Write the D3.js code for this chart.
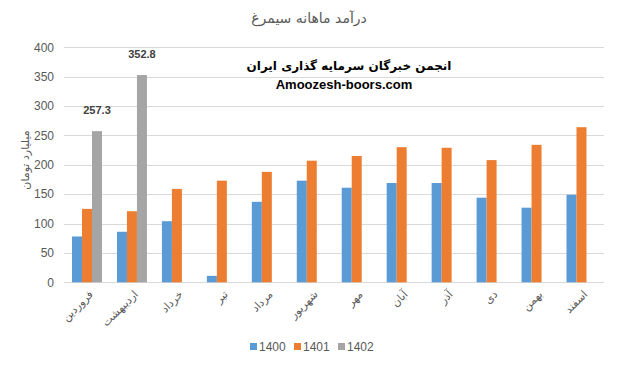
<!DOCTYPE html>
<html>
<head>
<meta charset="utf-8">
<script src="https://cdn.jsdelivr.net/npm/d3@7"></script>
<style>
  body { margin: 0; background: #fff; }
  text { font-family: "Liberation Sans", "DejaVu Sans", sans-serif; }
</style>
</head>
<body>
<div id="chart"></div>
<script>
// months (Persian calendar)
var months = ["فروردین", "اردیبهشت", "خرداد", "تیر", "مرداد", "شهریور", "مهر", "آبان", "آذر", "دی", "بهمن", "اسفند"];
var series = ["1400", "1401", "1402"];
var v1400 = [78, 86, 104, 11, 137, 173, 161, 169, 169, 144, 127, 149];
var v1401 = [125, 121, 159, 173, 188, 207, 215, 230, 229, 208, 234, 264];
var v1402 = [257.3, 352.8, null, null, null, null, null, null, null, null, null, null];
var yTicks = [0, 50, 100, 150, 200, 250, 300, 350, 400];
var colors = ["#5b9bd5", "#ed7d31", "#a5a5a5"];

var width = 617, height = 366;
var margin = {top: 47, right: 13, bottom: 84, left: 64};

var svg = d3.select("#chart").append("svg")
    .attr("width", width)
    .attr("height", height);

var x = d3.scaleBand()
    .domain(months)
    .range([margin.left + 0.5, width - margin.right])
    .paddingInner(0.333)
    .paddingOuter(0.167);

var xs = d3.scaleBand()
    .domain(series)
    .range([0, x.bandwidth()]);

var y = d3.scaleLinear()
    .domain([0, 400])
    .range([height - margin.bottom + 0.3, margin.top + 0.3]);

// gridlines
svg.append("g")
  .selectAll("line")
  .data(yTicks)
  .enter().append("line")
    .attr("x1", margin.left)
    .attr("x2", width - margin.right)
    .attr("y1", function(d) { return Math.round(y(d)) + 0.5; })
    .attr("y2", function(d) { return Math.round(y(d)) + 0.5; })
    .attr("stroke", "#d9d9d9")
    .attr("stroke-width", 1);

// y tick labels
svg.append("g")
  .selectAll("text")
  .data(yTicks)
  .enter().append("text")
    .attr("x", 54)
    .attr("y", function(d) { return y(d); })
    .attr("dy", "0.35em")
    .attr("text-anchor", "end")
    .attr("fill", "#595959")
    .style("font-size", "12px")
    .text(function(d) { return d; });

// bars
var data = [v1400, v1401, v1402];
data.forEach(function(vals, si) {
  svg.append("g")
    .selectAll("rect")
    .data(vals.map(function(v, i) { return {m: months[i], v: v}; }).filter(function(d) { return d.v != null; }))
    .enter().append("rect")
      .attr("x", function(d) { return x(d.m) + xs(series[si]); })
      .attr("width", xs.bandwidth())
      .attr("y", function(d) { return y(d.v); })
      .attr("height", function(d) { return y(0) - y(d.v); })
      .attr("fill", colors[si]);
});

// data labels for 1402
svg.append("g")
  .selectAll("text")
  .data(v1402.map(function(v, i) { return {m: months[i], v: v}; }).filter(function(d) { return d.v != null; }))
  .enter().append("text")
    .attr("x", function(d) { return x(d.m) + xs("1402") + xs.bandwidth() / 2; })
    .attr("y", function(d) { return y(d.v) - 17; })
    .attr("text-anchor", "middle")
    .attr("fill", "#404040")
    .style("font-size", "11px")
    .style("font-weight", "bold")
    .text(function(d) { return d.v.toFixed(1); });

// x labels, rotated
svg.append("g")
  .selectAll("text")
  .data(months)
  .enter().append("text")
    .attr("transform", function(d) { return "translate(" + (x(d) + x.bandwidth() / 2 + 4) + "," + (y(0) + 10) + ") rotate(-45)"; })
    .attr("text-anchor", "end")
    .attr("dy", "0.35em")
    .attr("fill", "#595959")
    .style("font-size", "11px")
    .style("font-family", "DejaVu Sans")
    .text(function(d) { return d; });

// title
svg.append("text")
    .attr("x", 309)
    .attr("y", 23)
    .attr("text-anchor", "middle")
    .attr("fill", "#595959")
    .style("font-size", "14px")
    .style("font-family", "DejaVu Sans")
    .text("درآمد ماهانه سیمرغ");

// y axis title
svg.append("text")
    .attr("transform", "translate(25,160) rotate(-90)")
    .attr("text-anchor", "middle")
    .attr("dy", "0.35em")
    .attr("fill", "#595959")
    .style("font-size", "11px")
    .style("font-family", "DejaVu Sans")
    .text("میلیارد تومان");

// watermark text
svg.append("text")
    .attr("x", 349)
    .attr("y", 70)
    .attr("text-anchor", "middle")
    .attr("fill", "#000")
    .style("font-size", "12px")
    .style("font-weight", "bold")
    .style("font-family", "DejaVu Sans")
    .text("انجمن خبرگان سرمایه گذاری ایران");

svg.append("text")
    .attr("x", 344)
    .attr("y", 89)
    .attr("text-anchor", "middle")
    .attr("fill", "#000")
    .style("font-size", "13px")
    .style("font-weight", "bold")
    .text("Amoozesh-boors.com");

// legend
var legX = [250, 294, 338];
var leg = svg.append("g")
  .selectAll("g")
  .data(series)
  .enter().append("g")
    .attr("transform", function(d, i) { return "translate(" + legX[i] + ",343)"; });
leg.append("rect")
    .attr("width", 7)
    .attr("height", 7)
    .attr("fill", function(d, i) { return colors[i]; });
leg.append("text")
    .attr("x", 9)
    .attr("y", 3.5)
    .attr("dy", "0.35em")
    .attr("fill", "#595959")
    .style("font-size", "12px")
    .text(function(d) { return d; });
</script>
</body>
</html>
